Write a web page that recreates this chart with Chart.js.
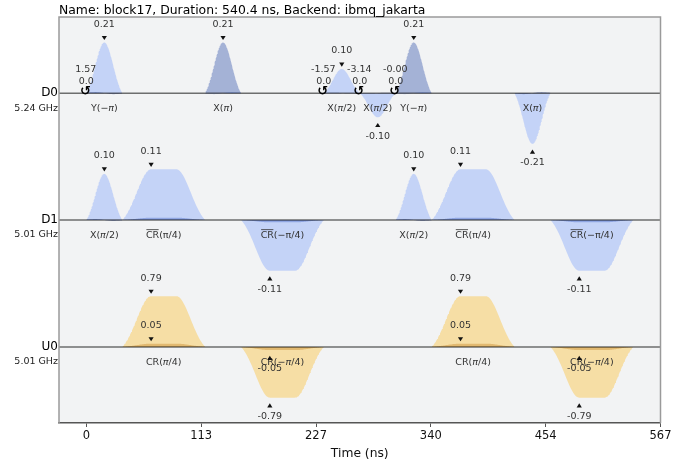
<!DOCTYPE html>
<html>
<head>
<meta charset="utf-8">
<script src="https://cdn.jsdelivr.net/npm/chart.js@4/dist/chart.umd.min.js"></script>
<style>
  html, body { margin: 0; padding: 0; background: #ffffff; }
  #wrap { width: 697px; height: 461px; position: relative; }
</style>
</head>
<body>
<div id="wrap"><canvas id="c" width="697" height="461"></canvas></div>
<script>
// ---- schedule data ----
const titleText = 'Name: block17, Duration: 540.4 ns, Backend: ibmq_jakarta';
const channelNames = ['D0', 'D1', 'U0'];
const channelFreqs = ['5.24 GHz', '5.01 GHz', '5.01 GHz'];

const timeTicks = [0, 113.48, 226.97, 340.45, 453.94, 567.42];
const timeTickLabels = ['0', '113', '227', '340', '454', '567'];

// one entry per played pulse (times in ns)
const pulseChannel  = [0, 1, 1, 2, 0, 1, 2, 0, 0, 0, 1, 1, 2, 0, 1, 2];
const pulseStart    = [0, 0, 35.56, 35.56, 117.33, 152.89, 152.89, 234.67, 270.22, 305.78, 305.78, 341.33, 341.33, 423.11, 458.67, 458.67];
const pulseDuration = [35.56, 35.56, 81.78, 81.78, 35.56, 81.78, 81.78, 35.56, 35.56, 35.56, 35.56, 81.78, 81.78, 35.56, 81.78, 81.78];
const pulseShape    = ['gauss', 'gauss', 'square', 'square', 'gauss', 'square', 'square', 'gauss', 'gauss', 'gauss', 'gauss', 'square', 'square', 'gauss', 'square', 'square'];
const pulseRe       = [0.21, 0.10, 0.11, 0.79, 0.00, -0.11, -0.79, 0.10, -0.10, 0.00, 0.10, 0.11, 0.79, -0.21, -0.11, -0.79];
const pulseIm       = [0.00, 0.00, 0.005, 0.05, 0.21, -0.005, -0.05, 0.00, 0.00, 0.21, 0.00, 0.005, 0.05, 0.00, -0.005, -0.05];
const pulseLabel    = ['Y(−*π*)', 'X(*π*/2)', '~CR~(π/4)', 'CR(*π*/4)', 'X(*π*)', '~CR~(−π/4)', 'CR(−*π*/4)',
                       'X(*π*/2)', 'X(*π*/2)', 'Y(−*π*)', 'X(*π*/2)', '~CR~(π/4)', 'CR(*π*/4)', 'X(*π*)', '~CR~(−π/4)', 'CR(−*π*/4)'];

// pulse shape parameters (ns)
const gaussSigma = 8.89;
const squareSigma = 14.22;
const squareWidth = 24.89;
const dragFraction = 0.02;

// frame changes
const frameChannel = [0, 0, 0, 0];
const frameTime    = [0, 234.67, 270.22, 305.78];
const framePhase   = [1.5708, -1.5708, -3.1416, -0];
const frameFreq    = [0.0, 0.0, 0.0, 0.0];

// ---- layout ----
const X_MIN = -27.02, X_MAX = 567.42;
const Y_MIN = -6.5, Y_MAX = 1.5;
const CH_GAP = 2.5;
const FONT = '"DejaVu Sans", "Liberation Sans", sans-serif';
const colorsD = ['rgba(100,143,255,0.32)', 'rgba(0,41,153,0.32)'];
const colorsU = ['rgba(255,176,0,0.32)', 'rgba(153,74,0,0.32)'];

const chanOffset = ch => -CH_GAP * ch;
const chanMax = channelNames.map((_, ch) => {
  let m = 0;
  pulseChannel.forEach((c, i) => { if (c === ch) m = Math.max(m, Math.abs(pulseRe[i]), Math.abs(pulseIm[i])); });
  return m || 1;
});

// lifted gaussian envelope and its (normalised) derivative
function gaussEnv(t, dur) {
  const c = dur / 2, s2 = 2 * gaussSigma * gaussSigma;
  const edge = Math.exp(-(c * c) / s2);
  const g = Math.exp(-((t - c) * (t - c)) / s2);
  const val = Math.max(0, (g - edge) / (1 - edge));
  const d = -(t - c) / (gaussSigma * gaussSigma) * g / (1 - edge);
  const dNorm = gaussSigma * Math.exp(0.5) * (1 - edge);
  return [val, d * dNorm];
}
function squareEnv(t, dur) {
  const rf = (dur - squareWidth) / 2, s2 = 2 * squareSigma * squareSigma;
  const edge = Math.exp(-(rf * rf) / s2);
  let g;
  if (t < rf) g = Math.exp(-((t - rf) * (t - rf)) / s2);
  else if (t > rf + squareWidth) g = Math.exp(-((t - rf - squareWidth) ** 2) / s2);
  else g = 1;
  return Math.max(0, (g - edge) / (1 - edge));
}
function sample(i, tau) {
  if (pulseShape[i] === 'gauss') {
    const [g, d] = gaussEnv(tau, pulseDuration[i]);
    const bd = dragFraction * d;
    return [pulseRe[i] * g - pulseIm[i] * bd, pulseIm[i] * g + pulseRe[i] * bd];
  }
  const g = squareEnv(tau, pulseDuration[i]);
  return [pulseRe[i] * g, pulseIm[i] * g];
}
function peakTime(i) {
  return pulseShape[i] === 'gauss'
    ? pulseStart[i] + pulseDuration[i] / 2
    : pulseStart[i] + (pulseDuration[i] - squareWidth) / 2;
}

// ---- datasets: one filled trace per pulse component ----
const datasets = [];
const NS = 120;
pulseChannel.forEach((ch, i) => {
  const off = chanOffset(ch), sc = chanMax[ch];
  const cols = channelNames[ch][0] === 'U' ? colorsU : colorsD;
  const parts = [[], []];
  let maxAbs = [0, 0];
  for (let k = 0; k <= NS; k++) {
    const tau = pulseDuration[i] * k / NS;
    const v = sample(i, tau);
    for (let p = 0; p < 2; p++) {
      parts[p].push({ x: pulseStart[i] + tau, y: off + v[p] / sc });
      maxAbs[p] = Math.max(maxAbs[p], Math.abs(v[p]));
    }
  }
  for (let p = 0; p < 2; p++) {
    if (maxAbs[p] < 1e-6) continue;
    datasets.push({
      data: parts[p],
      backgroundColor: cols[p],
      borderWidth: 0,
      pointRadius: 0,
      tension: 0,
      fill: { value: off }
    });
  }
});

// ---- text helpers ----
function drawRich(ctx, str, cx, cy, size, color) {
  const segs = [];
  let cur = '', it = false, ov = false;
  for (const ch of str) {
    if (ch === '*' || ch === '~') {
      if (cur) segs.push({ t: cur, it, ov });
      cur = '';
      if (ch === '*') it = !it; else ov = !ov;
    } else cur += ch;
  }
  if (cur) segs.push({ t: cur, it, ov });
  let total = 0;
  segs.forEach(s => {
    ctx.font = (s.it ? 'italic ' : '') + size + 'px ' + FONT;
    s.w = ctx.measureText(s.t).width;
    total += s.w;
  });
  let x = cx - total / 2;
  ctx.fillStyle = color;
  ctx.strokeStyle = color;
  ctx.textAlign = 'left';
  ctx.textBaseline = 'middle';
  segs.forEach(s => {
    ctx.font = (s.it ? 'italic ' : '') + size + 'px ' + FONT;
    ctx.fillText(s.t, x, cy);
    if (s.ov) {
      ctx.lineWidth = 0.8;
      ctx.beginPath();
      ctx.moveTo(x + 0.5, cy - size * 0.62);
      ctx.lineTo(x + s.w - 0.5, cy - size * 0.62);
      ctx.stroke();
    }
    x += s.w;
  });
}
function fmt2(v) {
  return (v < 0 || Object.is(v, -0)) ? '-' + Math.abs(v).toFixed(2) : v.toFixed(2);
}
function tri(ctx, x, y, down) {
  ctx.beginPath();
  if (down) { ctx.moveTo(x - 2.6, y - 2); ctx.lineTo(x + 2.6, y - 2); ctx.lineTo(x, y + 2.2); }
  else { ctx.moveTo(x - 2.6, y + 2); ctx.lineTo(x + 2.6, y + 2); ctx.lineTo(x, y - 2.2); }
  ctx.closePath();
  ctx.fill();
}

const decor = {
  id: 'decor',
  beforeDraw(chart) {
    const { ctx, chartArea: a } = chart;
    ctx.save();
    ctx.fillStyle = '#ffffff';
    ctx.fillRect(0, 0, chart.width, chart.height);
    ctx.fillStyle = '#f2f3f4';
    ctx.fillRect(a.left, a.top, a.right - a.left, a.bottom - a.top);
    ctx.restore();
  },
  afterDatasetsDraw(chart) {
    const { ctx, chartArea: a, scales: { x: xs, y: ys } } = chart;
    ctx.save();
    // channel baselines
    channelNames.forEach((name, ch) => {
      const y = ys.getPixelForValue(chanOffset(ch));
      ctx.strokeStyle = 'rgba(0,0,0,0.55)';
      ctx.lineWidth = 1.5;
      ctx.beginPath();
      ctx.moveTo(a.left, y);
      ctx.lineTo(a.right, y);
      ctx.stroke();
      ctx.fillStyle = '#000';
      ctx.textAlign = 'right';
      ctx.textBaseline = 'middle';
      ctx.font = '12px ' + FONT;
      ctx.fillText(name, a.left - 1, y);
      ctx.font = '9.5px ' + FONT;
      ctx.fillStyle = '#222';
      ctx.fillText(channelFreqs[ch], a.left - 1, y + 15);
    });
    // gate labels and peak annotations
    pulseChannel.forEach((ch, i) => {
      const off = chanOffset(ch), sc = chanMax[ch];
      const base = ys.getPixelForValue(off);
      const cx = xs.getPixelForValue(pulseStart[i] + pulseDuration[i] / 2);
      drawRich(ctx, pulseLabel[i], cx, base + 15.5, 9.5, '#333');
      const px = xs.getPixelForValue(peakTime(i));
      [pulseRe[i], pulseIm[i]].forEach(v => {
        if (Math.abs(v) < 0.01) return;
        const py = ys.getPixelForValue(off + v / sc);
        ctx.fillStyle = '#111';
        tri(ctx, px, v > 0 ? py - 4.5 : py + 7.8, v > 0);
        ctx.fillStyle = '#333';
        ctx.font = '9.5px ' + FONT;
        ctx.textAlign = 'center';
        ctx.textBaseline = 'middle';
        ctx.fillText(fmt2(v), px, v > 0 ? py - 18 : py + 18.8);
      });
    });
    // frame changes
    frameChannel.forEach((ch, k) => {
      const base = ys.getPixelForValue(chanOffset(ch));
      const fx = xs.getPixelForValue(frameTime[k]);
      ctx.textAlign = 'center';
      ctx.textBaseline = 'middle';
      ctx.fillStyle = '#000';
      ctx.font = 'bold 13px ' + FONT;
      ctx.fillText('\u21BA', fx - 1, base - 1.5);
      ctx.fillStyle = '#333';
      ctx.font = '9.5px ' + FONT;
      ctx.fillText(fmt2(framePhase[k]), fx - 0.5, base - 24);
      ctx.fillText(frameFreq[k].toFixed(1), fx, base - 12);
    });
    ctx.restore();
  },
  afterDraw(chart) {
    const { ctx, chartArea: a } = chart;
    ctx.save();
    ctx.strokeStyle = '#9a9a9a';
    ctx.lineWidth = 1.5;
    ctx.beginPath();
    ctx.moveTo(a.left, a.bottom);
    ctx.lineTo(a.left, a.top);
    ctx.lineTo(a.right, a.top);
    ctx.lineTo(a.right, a.bottom);
    ctx.stroke();
    ctx.fillStyle = '#000';
    ctx.font = '12.4px ' + FONT;
    ctx.textAlign = 'left';
    ctx.textBaseline = 'alphabetic';
    ctx.fillText(titleText, a.left, 14);
    ctx.restore();
  }
};

new Chart(document.getElementById('c'), {
  type: 'line',
  data: { datasets },
  options: {
    responsive: false,
    animation: false,
    devicePixelRatio: 1,
    layout: { padding: { left: 59, right: 36.5, top: 17, bottom: 0 } },
    plugins: { legend: { display: false }, tooltip: { enabled: false }, title: { display: false } },
    scales: {
      x: {
        type: 'linear',
        min: X_MIN,
        max: X_MAX,
        afterBuildTicks: s => { s.ticks = timeTicks.map(v => ({ value: v })); },
        afterFit: s => { s.height = 38; },
        ticks: {
          autoSkip: false,
          maxRotation: 0,
          padding: 2,
          color: '#111',
          font: { family: FONT, size: 11.5 },
          callback: (v, idx) => timeTickLabels[idx]
        },
        grid: { drawOnChartArea: false, drawTicks: true, tickLength: 4, color: '#555' },
        border: { display: true, color: '#555', width: 1.5 },
        title: { display: true, text: 'Time (ns)', color: '#111', font: { family: FONT, size: 12.3 }, padding: { top: 0, bottom: 0 } }
      },
      y: { type: 'linear', min: Y_MIN, max: Y_MAX, display: false }
    }
  },
  plugins: [decor]
});
</script>
</body>
</html>
